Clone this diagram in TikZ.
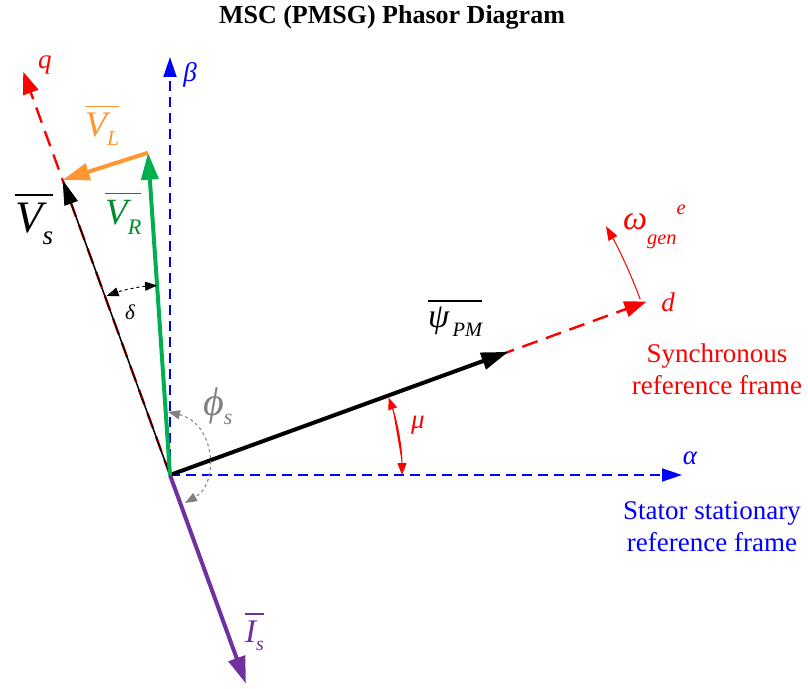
\documentclass[tikz,border=0pt]{standalone}
\usepackage{fontspec}
\setmainfont{Liberation Serif}
\usetikzlibrary{arrows.meta,positioning}
\definecolor{axblue}   {RGB}{0,  0,255}
\definecolor{axred}    {RGB}{255, 0,  0}
\definecolor{vrgreen}  {RGB}{0,176, 80}
\definecolor{vrtext}   {RGB}{0,140, 40}
\definecolor{vlorange} {RGB}{255,150, 50}
\definecolor{ispurple} {RGB}{112, 48,160}
\definecolor{angray}   {RGB}{128,128,128}
\newsavebox\phbox
\newcommand\phvec[2]{%
  \sbox\phbox{\itshape #1\raisebox{-.25em}{\scalebox{.6}{#2}}}%
  \rlap{\raisebox{\dimexpr\ht\phbox+.17em\relax}{\rule{\wd\phbox}{.05em}}}%
  \usebox\phbox}
\tikzset{
  abaxis/.style={draw=axblue,line width=1.8pt,dash pattern=on 10pt off 6pt,
                 -{Triangle[length=20pt,width=13pt]}},
  qdaxis/.style={draw=axred,line width=2.4pt,dash pattern=on 16pt off 9pt,
                 -{Triangle[length=22pt,width=16pt]}},
  phthick/.style={line width=4pt,-{Triangle[length=27pt,width=17pt]}},
  phpsi/.style={phthick,draw=black},
  phvr/.style={phthick,draw=vrgreen},
  phvl/.style={phthick,draw=vlorange},
  phis/.style={phthick,draw=ispurple},
  phvs/.style={line width=1.5pt,draw=black,-{Triangle[length=25pt,width=14pt]}},
  angarc/.style={line width=1pt,{Triangle[length=12pt,width=9pt]}-{Triangle[length=12pt,width=9pt]}},
  phlbl/.style={inner sep=0pt,anchor=base west},
  txt/.style={font=\fontsize{27}{32}\selectfont,align=center},
  axlbl/.style={font=\fontsize{27}{30}\selectfont\itshape},
  ttl/.style={font=\fontsize{26}{30}\selectfont\bfseries},
}
\begin{document}
\begin{tikzpicture}[x=1pt,y=1pt]
  \useasboundingbox (-170,-213) rectangle (638,475);
  \coordinate (O)     at (0,0);
  \coordinate (ALPHA) at (512,0);
  \coordinate (BETA)  at (0,418);
  \coordinate (DAX)   at (20:507);
  \coordinate (QAX)   at (110:429);
  \coordinate (PSI)   at (20:360);
  \coordinate (VS)    at (110:314);
  \coordinate (VR)    at (93.9:323);
  \coordinate (IS)    at (-70:222);

  % reference frames
  \draw[qdaxis] (O) -- (QAX);
  \draw[qdaxis] (O) -- (DAX);
  \draw[abaxis] (O) -- (ALPHA);
  \draw[abaxis] (O) -- (BETA);

  % phasors
  \draw[phpsi] (O) -- (PSI);
  \draw[phvs]  (O) -- (VS);
  \draw[phvr]  (O) -- (VR);
  \draw[phvl]  (VR) -- (VS);
  \draw[phis]  (O) -- (IS);

  % angles
  \coordinate (MU1) at (0:232);
  \coordinate (DL1) at (93.9:190);
  \coordinate (OM1) at (20.5:502);
  \coordinate (PHI1) at (-2,63);
  \coordinate (PHI2) at (15,-28);
  \draw[angarc,draw=axred,fill=axred] (MU1) arc[start angle=0,end angle=19.5,radius=232];
  \draw[angarc,draw=black,dashed,line width=1pt] (DL1) arc[start angle=93.9,end angle=109.5,radius=190];
  \draw[draw=axred,line width=1pt,-{Triangle[length=14pt,width=10pt]}] (OM1) arc[start angle=20.5,end angle=29.7,radius=502];
  \draw[angarc,draw=angray,dashed] (PHI1) .. controls (45,52) and (50,-8) .. (PHI2);

  % labels
  \node[ttl] (TITLE) at (222,458) {MSC (PMSG) Phasor Diagram};
  \node[axlbl,text=axblue] (ALBL) at (520,17) {α};
  \node[axlbl,text=axblue] (BLBL) at (20,400) {β};
  \node[axlbl,text=axred] (QLBL) at (-125,410) {q};
  \node[axlbl,text=axred] (DLBL) at (498,173) {d};
  \node[axlbl,text=axred] (MULBL) at (248,50) {μ};
  \node[font=\fontsize{21}{24}\selectfont\itshape] (DELBL) at (-40,163) {δ};
  \node[phlbl,font=\fontsize{40}{42}\selectfont\itshape,text=angray] (PHILBL) at (33,59)
       {ϕ\raisebox{-.2em}{\scalebox{.55}{s}}};
  \node[phlbl,font=\fontsize{34}{36}\selectfont\itshape,text=axred] (OMLBL) at (453,245)
       {ω\raisebox{-.42em}{\scalebox{.6}{gen}}\raisebox{.45em}{\scalebox{.6}{e}}};
  \node[txt,text=axred] (SYNC) at (547,106) {Synchronous\\reference frame};
  \node[txt,text=axblue] (STAT) at (542,-52) {Stator stationary\\reference frame};
  \node[phlbl,font=\fontsize{45}{48}\selectfont] (VSLBL) at (-155,242) {\phvec{V}{s}};
  \node[phlbl,font=\fontsize{36}{38}\selectfont,text=vlorange] (VLLBL) at (-85,338) {\phvec{V}{L}};
  \node[phlbl,font=\fontsize{37}{38}\selectfont,text=vrtext] (VRLBL) at (-65,250) {\phvec{V}{R}};
  \node[phlbl,font=\fontsize{34}{36}\selectfont] (PSILBL) at (258,147) {\phvec{ψ}{\,PM}};
  \node[phlbl,font=\fontsize{33}{36}\selectfont,text=ispurple] (ISLBL) at (75,-167) {\phvec{I}{s}};
\end{tikzpicture}
\end{document}
